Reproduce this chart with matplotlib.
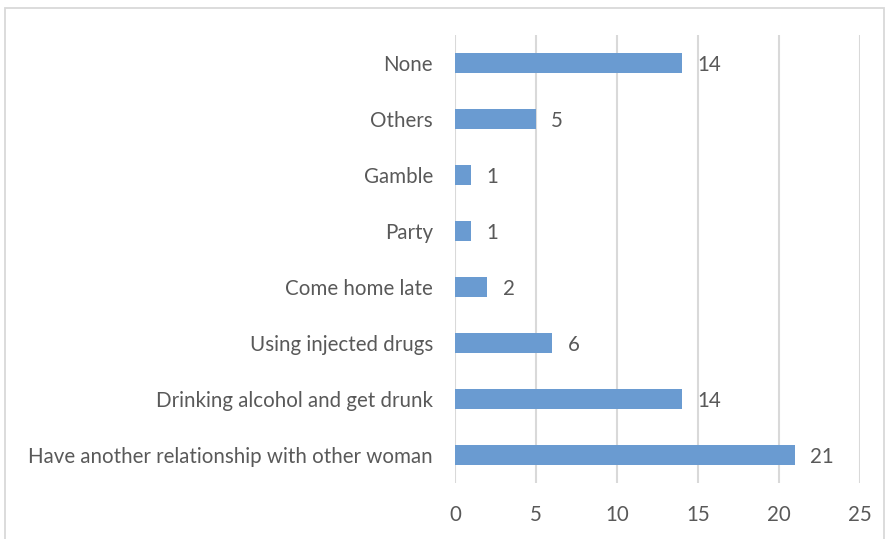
import matplotlib.pyplot as plt
from matplotlib.patches import Rectangle

categories = ['Have another relationship with other woman', 'Drinking alcohol and get drunk',
              'Using injected drugs', 'Come home late', 'Party', 'Gamble', 'Others', 'None']
values = [21, 14, 6, 2, 1, 1, 5, 14]
xticks = [0, 5, 10, 15, 20, 25]

plt.rcParams['font.family'] = ['Lato', 'DejaVu Sans']
text_col = '#595959'
grid_col = '#D9D9D9'

fig = plt.figure(figsize=(8.88, 5.39), dpi=100)
fig.patches.append(Rectangle((5 / 888, -0.01), 879 / 888, 1 - 8 / 539 + 0.01,
                             transform=fig.transFigure, fill=False,
                             edgecolor=grid_col, linewidth=1.3))
ax = fig.add_axes([455 / 888, 1 - 483 / 539, 405 / 888, 448 / 539])

ypos = range(len(categories))
ax.barh(ypos, values, height=0.36, color='#6A9BD1', zorder=3)
for y, v in zip(ypos, values):
    ax.annotate(str(v), (v, y), xytext=(11, -1.5), textcoords='offset points',
                va='center', ha='left', fontsize=14.8, color=text_col)

ax.set_xlim(0, 25)
ax.set_ylim(-0.5, len(categories) - 0.5)
ax.set_xticks(xticks)
ax.set_yticks(list(ypos))
ax.set_yticklabels(categories)
ax.tick_params(axis='both', length=0, labelsize=14.8, colors=text_col)
ax.tick_params(axis='y', pad=16)
ax.tick_params(axis='x', pad=16)
ax.xaxis.grid(True, color=grid_col, linewidth=1.5, zorder=0)
for s in ax.spines.values():
    s.set_visible(False)

fig.savefig('out.png', dpi=100)
